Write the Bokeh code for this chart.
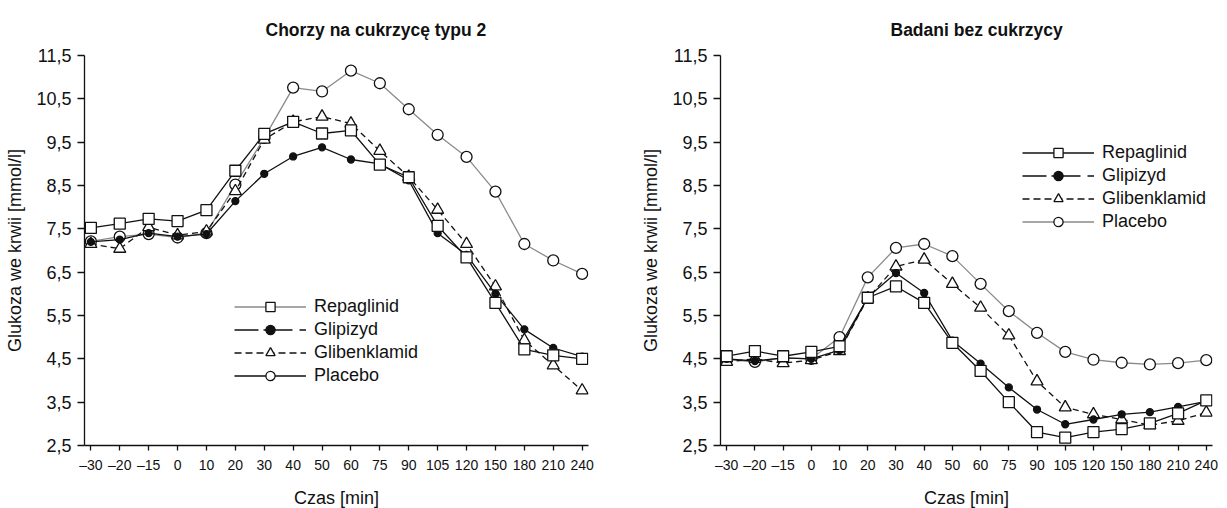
from bokeh.plotting import figure
from bokeh.layouts import row
from bokeh.models import Range1d, FixedTicker, Legend, LegendItem
from bokeh.embed import file_html
from bokeh.resources import INLINE

# ---------------- data ----------------
time_labels = ["–30", "–20", "–15", "0", "10", "20", "30", "40", "50", "60",
               "75", "90", "105", "120", "150", "180", "210", "240"]
y_ticks = [2.5, 3.5, 4.5, 5.5, 6.5, 7.5, 8.5, 9.5, 10.5, 11.5]
y_tick_labels = ["2,5", "3,5", "4,5", "5,5", "6,5", "7,5", "8,5", "9,5", "10,5", "11,5"]
series_names = ["Repaglinid", "Glipizyd", "Glibenklamid", "Placebo"]

# Chorzy na cukrzycę typu 2
t2_repaglinid = [7.52, 7.62, 7.73, 7.68, 7.93, 8.84, 9.69, 9.97, 9.70, 9.77,
                 8.98, 8.69, 7.57, 6.84, 5.79, 4.72, 4.58, 4.50]
t2_glipizyd = [7.20, 7.25, 7.40, 7.32, 7.38, 8.14, 8.77, 9.17, 9.38, 9.10,
               9.00, 8.62, 7.40, 6.90, 6.00, 5.18, 4.75, 4.55]
t2_glibenklamid = [7.15, 7.04, 7.54, 7.35, 7.44, 8.37, 9.56, 9.97, 10.09, 9.93,
                   9.30, 8.70, 7.94, 7.15, 6.17, 4.93, 4.35, 3.77]
t2_placebo = [7.21, 7.32, 7.38, 7.30, 7.40, 8.52, 9.60, 10.76, 10.67, 11.15,
              10.86, 10.26, 9.67, 9.16, 8.36, 7.15, 6.77, 6.46]

# Badani bez cukrzycy
nd_repaglinid = [4.56, 4.68, 4.56, 4.66, 4.79, 5.91, 6.17, 5.79, 4.87, 4.22,
                 3.50, 2.81, 2.68, 2.81, 2.88, 3.01, 3.24, 3.54]
nd_glipizyd = [4.50, 4.45, 4.52, 4.50, 4.70, 5.92, 6.48, 6.02, 4.92, 4.39,
               3.84, 3.33, 2.99, 3.10, 3.22, 3.27, 3.39, 3.52]
nd_glibenklamid = [4.43, 4.50, 4.40, 4.47, 4.68, 5.90, 6.63, 6.79, 6.23, 5.68,
                   5.04, 3.98, 3.38, 3.22, 3.10, 2.97, 3.07, 3.26]
nd_placebo = [4.48, 4.43, 4.52, 4.50, 5.00, 6.38, 7.06, 7.15, 6.87, 6.23,
              5.60, 5.10, 4.66, 4.48, 4.41, 4.37, 4.40, 4.47]

# ---------------- styles ----------------
FONT = "Liberation Sans"
INK = "#111111"
GRAY = "#8a8a8a"
LW = 1.3
EXT = 0.22

line_styles = {
    "Repaglinid": dict(line_color=INK, line_dash="solid"),
    "Glipizyd": dict(line_color=INK, line_dash="solid"),
    "Glibenklamid": dict(line_color=INK, line_dash="6 4"),
    "Placebo": dict(line_color=GRAY, line_dash="solid"),
}
marker_styles = {
    "Repaglinid": dict(marker="square", size=11, fill_color="white"),
    "Glipizyd": dict(marker="circle", size=7, fill_color=INK),
    "Glibenklamid": dict(marker="triangle", size=12, fill_color="white"),
    "Placebo": dict(marker="circle", size=11, fill_color="white"),
}


def make_panel(title, data, frame_w, border_l, border_r, title_offset,
               legend_loc, legend_lines):
    n = len(time_labels)
    xs = list(range(n))
    p = figure(frame_width=frame_w, frame_height=390,
               x_range=Range1d(-EXT, n - 1 + EXT),
               y_range=Range1d(y_ticks[0], y_ticks[-1]),
               output_backend="svg", toolbar_location=None,
               min_border_left=border_l, min_border_right=border_r,
               min_border_top=55, min_border_bottom=60)
    p.title.text = title
    p.title.text_font = FONT
    p.title.text_font_style = "bold"
    p.title.text_font_size = "17.5px"
    p.title.text_color = INK
    p.title.align = "left"
    p.title.offset = title_offset
    p.title.standoff = 32
    p.outline_line_color = None
    p.xgrid.visible = False
    p.ygrid.visible = False
    p.background_fill_color = "white"
    p.border_fill_color = "white"

    # x axis
    xa = p.xaxis[0]
    xa.ticker = FixedTicker(ticks=xs)
    xa.major_label_overrides = {i: lab for i, lab in enumerate(time_labels)}
    xa.axis_label = "Czas [min]"
    xa.axis_label_text_font = FONT
    xa.axis_label_text_font_style = "normal"
    xa.axis_label_text_font_size = "18px"
    xa.axis_label_text_color = INK
    xa.axis_label_standoff = 12
    xa.major_label_text_font = FONT
    xa.major_label_text_font_size = "14px"
    xa.major_label_text_color = INK
    xa.major_label_standoff = 6
    xa.major_tick_out = 5
    xa.major_tick_in = 0
    xa.minor_tick_line_color = None
    xa.axis_line_width = LW
    xa.axis_line_color = INK
    xa.major_tick_line_width = LW
    xa.major_tick_line_color = INK

    # y axis
    ya = p.yaxis[0]
    ya.ticker = FixedTicker(ticks=y_ticks)
    ya.major_label_overrides = {v: lab for v, lab in zip(y_ticks, y_tick_labels)}
    ya.axis_label = "Glukoza we krwii [mmol/l]"
    ya.axis_label_text_font = FONT
    ya.axis_label_text_font_style = "normal"
    ya.axis_label_text_font_size = "18px"
    ya.axis_label_text_color = INK
    ya.axis_label_standoff = 8
    ya.major_label_text_font = FONT
    ya.major_label_text_font_size = "18px"
    ya.major_label_text_color = INK
    ya.major_label_standoff = 6
    ya.major_tick_out = 7
    ya.major_tick_in = 0
    ya.minor_tick_line_color = None
    ya.axis_line_width = LW
    ya.axis_line_color = INK
    ya.major_tick_line_width = LW
    ya.major_tick_line_color = INK

    # series (placebo first so that squares sit on top)
    for name in ["Placebo", "Glibenklamid", "Glipizyd", "Repaglinid"]:
        ys = data[name]
        p.line(xs, ys, line_width=LW, **line_styles[name])
        p.scatter(xs, ys, line_color=INK, line_width=LW, **marker_styles[name])

    # legend (styles as printed in the original legend); placeholder renderers
    # hold one missing value so they draw nothing in the plot itself
    items = []
    for name in series_names:
        lc, ld = legend_lines[name]
        lr = p.line([0], [float("nan")], line_color=lc, line_dash=ld, line_width=LW)
        ms = dict(marker_styles[name])
        ms.pop("size")
        sr = p.scatter([0], [float("nan")], line_color=INK, line_width=LW, **ms)
        items.append(LegendItem(label=name, renderers=[lr, sr]))
    leg = Legend(items=items, location=legend_loc, orientation="vertical",
                 glyph_width=72, glyph_height=23, label_height=23,
                 label_standoff=8, spacing=0, padding=0, margin=0,
                 border_line_color=None, background_fill_alpha=0,
                 label_text_font=FONT, label_text_font_size="18px",
                 label_text_color=INK)
    p.add_layout(leg)
    return p


left_data = {"Repaglinid": t2_repaglinid, "Glipizyd": t2_glipizyd,
             "Glibenklamid": t2_glibenklamid, "Placebo": t2_placebo}
right_data = {"Repaglinid": nd_repaglinid, "Glipizyd": nd_glipizyd,
              "Glibenklamid": nd_glibenklamid, "Placebo": nd_placebo}

left_legend_lines = {"Repaglinid": (GRAY, "solid"), "Glipizyd": (INK, "24 5 29 7"),
                     "Glibenklamid": (INK, "7 4"), "Placebo": (INK, "solid")}
right_legend_lines = {"Repaglinid": (INK, "solid"), "Glipizyd": (INK, "24 5 29 7"),
                      "Glibenklamid": (INK, "7 4"), "Placebo": (GRAY, "solid")}

p1 = make_panel("Chorzy na cukrzycę typu 2", left_data, 504, 84, 20, 181,
                (150, 58), left_legend_lines)
p2 = make_panel("Badani bez cukrzycy", right_data, 492, 112, 15, 170,
                (302, 212), right_legend_lines)

layout = row(p1, p2)
open("out.html", "w").write(file_html(layout, INLINE))
